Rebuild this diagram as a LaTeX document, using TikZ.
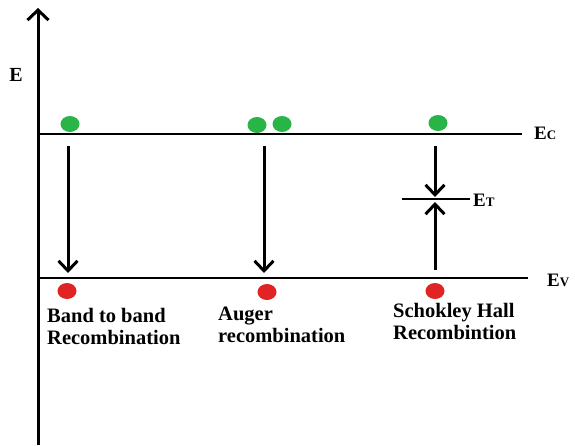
\documentclass[tikz,border=0pt]{standalone}
\usepackage{fontspec}
\setmainfont{Liberation Serif}
\usetikzlibrary{arrows.meta}
\begin{document}
\begin{tikzpicture}[x=1pt,y=-1pt,
  level/.style={line width=2.6pt},
  arr/.style={line width=3pt,-{Straight Barb[length=10pt,width=19pt,line width=3pt]}},
  lbl/.style={font=\bfseries\fontsize{20.5}{22}\selectfont,align=left,anchor=north west,inner sep=0pt},
  elbl/.style={font=\bfseries\fontsize{19}{20}\selectfont,inner sep=0pt,anchor=west}]
\useasboundingbox (0,0) rectangle (575,445);
% axis
\coordinate (ab) at (38,445);
\coordinate (at) at (38,8);
\draw[line width=3pt,-{Straight Barb[length=10pt,width=21pt,line width=3pt]}] (ab) -- (at);
\node[font=\bfseries\fontsize{20}{20}\selectfont,inner sep=0pt] (E) at (16,75) {E};
% levels
\coordinate (c0) at (38,134); \coordinate (c1) at (522,134);
\coordinate (v0) at (38,278); \coordinate (v1) at (528,278);
\draw[level] (c0) -- (c1);
\draw[level] (v0) -- (v1);
\node[elbl] (Ec) at (534,133) {E\fontsize{13}{14}\selectfont C};
\node[elbl] (Ev) at (547,280) {E\fontsize{13}{14}\selectfont V};
% dots
\definecolor{gd}{RGB}{40,180,70}
\definecolor{rd}{RGB}{225,35,35}
\fill[gd] (70,124) ellipse (9.5 and 8);
\fill[gd] (257,125) ellipse (9.5 and 8);
\fill[gd] (282,124) ellipse (9.5 and 8);
\fill[gd] (438,123) ellipse (9.5 and 8);
\fill[rd] (67,291) ellipse (9.5 and 8);
\fill[rd] (267,292) ellipse (9.5 and 8);
\fill[rd] (435,291) ellipse (9.5 and 8);
% arrows
\coordinate (a1s) at (68,146); \coordinate (a1e) at (68,273);
\coordinate (a2s) at (264,146); \coordinate (a2e) at (264,273);
\coordinate (a3s) at (435,146); \coordinate (a3e) at (435,197);
\coordinate (a4s) at (435,270); \coordinate (a4e) at (435,202);
\draw[arr] (a1s) -- (a1e);
\draw[arr] (a2s) -- (a2e);
\draw[arr] (a3s) -- (a3e);
\draw[arr] (a4s) -- (a4e);
% trap level
\coordinate (t0) at (402,199); \coordinate (t1) at (470,199);
\draw[line width=2.4pt] (t0) -- (t1);
\node[elbl] (Et) at (473,200) {E\fontsize{13}{14}\selectfont T};
% labels
\node[lbl] (l1) at (47,308.5) {Band to band\\Recombination};
\node[lbl] (l2) at (218,306.5) {Auger\\recombination};
\node[lbl] (l3) at (393,303.5) {Schokley Hall\\Recombintion};
\end{tikzpicture}
\end{document}
